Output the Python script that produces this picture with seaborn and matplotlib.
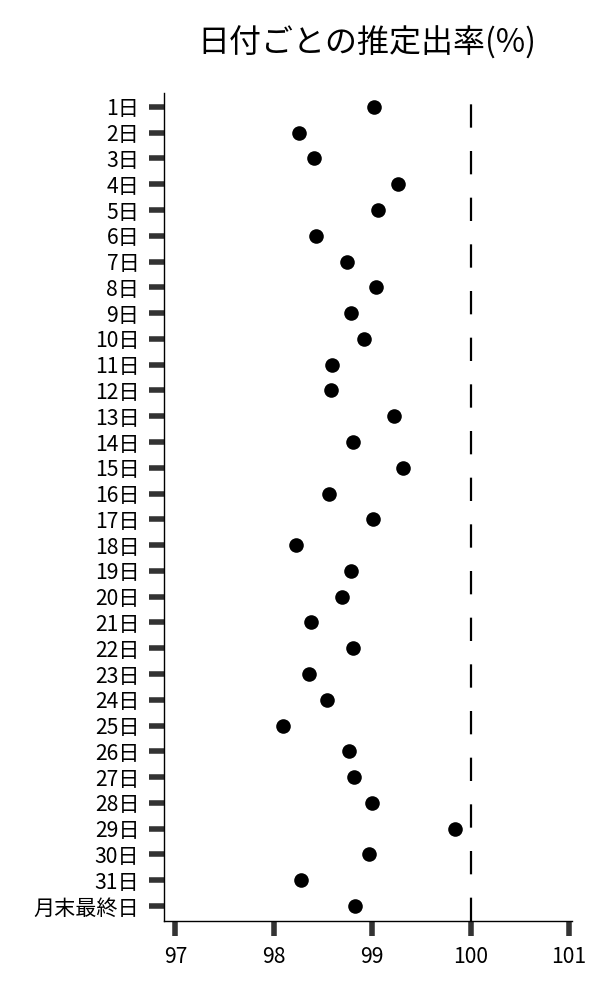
import numpy as np
import pandas as pd
import matplotlib
matplotlib.use('Agg')
import matplotlib.pyplot as plt
import seaborn as sns

# 日付ラベルと推定出率
days = [f'{i}日' for i in range(1, 32)] + ['月末最終日']
rates = [99.02, 98.26, 98.41, 99.26, 99.06, 98.43, 98.74, 99.04, 98.78, 98.92,
         98.59, 98.58, 99.22, 98.80, 99.31, 98.56, 99.01, 98.22, 98.78, 98.69,
         98.38, 98.80, 98.36, 98.54, 98.09, 98.76, 98.81, 99.00, 99.84, 98.97,
         98.28, 98.82]
ref_value = 100
x_ticks = [97, 98, 99, 100, 101]

df = pd.DataFrame({'day': days, 'rate': rates})

sns.set_theme(style='ticks')
plt.rcParams['font.family'] = ['Noto Sans CJK JP', 'DejaVu Sans']
plt.rcParams['text.color'] = 'black'
plt.rcParams['xtick.labelcolor'] = 'black'
plt.rcParams['ytick.labelcolor'] = 'black'

fig = plt.figure(figsize=(6, 10), dpi=100)
ax = fig.add_axes([0.2738, 0.079, 0.6795, 0.828])

sns.stripplot(data=df, x='rate', y='day', order=days, jitter=False,
              color='black', size=10.5, linewidth=0, ax=ax)

# 100% の基準線
ax.axvline(ref_value, color='black', lw=1.6, dashes=(10.5, 10.5))

ax.set_xlim(96.886, 101.03)
ax.set_ylim(31.58, -0.54)
ax.set_xticks(x_ticks)
ax.set_xticklabels([str(t) for t in x_ticks])
ax.set_xlabel('')
ax.set_ylabel('')

ax.tick_params(axis='both', length=11, width=4, color='#333333',
               labelsize=15.2, labelcolor='black', pad=7)
for side in ['left', 'bottom']:
    ax.spines[side].set_linewidth(1.0)
    ax.spines[side].set_color('black')
sns.despine(ax=ax)

fig.text(0.612, 0.957, '日付ごとの推定出率(%)', ha='center', va='center',
         fontsize=23, color='black')

fig.savefig('out.png', dpi=100)
plt.close(fig)
